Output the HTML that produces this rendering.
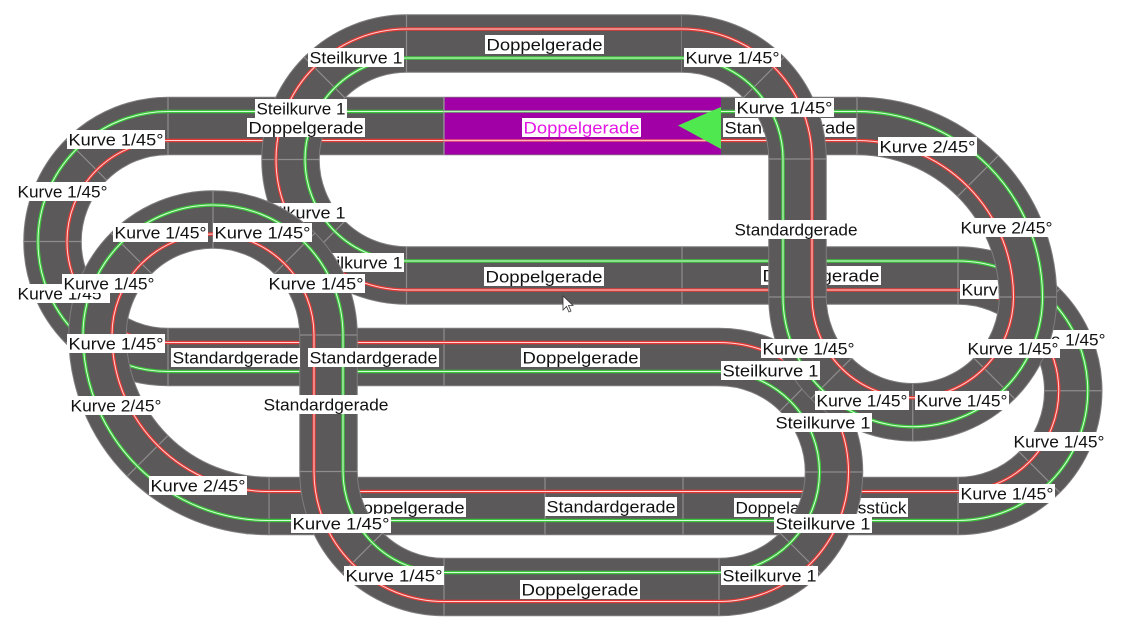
<!DOCTYPE html>
<html><head><meta charset="utf-8"><style>
html,body{margin:0;padding:0;background:#fff;}
svg{display:block;}
text{font-family:"Liberation Sans",Arial,sans-serif;font-size:16.5px;fill:#111;}
.tb{stroke:#7f7d7e;stroke-width:58.5;fill:none;}
.tf{stroke:#5b5959;stroke-width:56.5;fill:none;}
.jt{stroke:#8f8d8e;stroke-width:1.2;fill:none;}
.r1{stroke:#e03a36;stroke-width:3.4;fill:none;}
.r2{stroke:#ffd4d2;stroke-width:1;fill:none;}
.g1{stroke:#3cc43c;stroke-width:3.4;fill:none;}
.g2{stroke:#d6ffd6;stroke-width:1;fill:none;}
rect.lb{fill:#fff;}
</style></head><body>
<svg width="1140" height="631" viewBox="0 0 1140 631" xmlns="http://www.w3.org/2000/svg">
<rect width="1140" height="631" fill="#fff"/>

<!-- P0: y126 straight, big left semicircle, y357 straight -->
<g>
<path class="tb" d="M858,126 H168 A115.5,115.5 0 0 0 52.5,241.5 A115.5,115.5 0 0 0 168,357 H719.5"/>
<path class="tf" d="M858,126 H168 A115.5,115.5 0 0 0 52.5,241.5 A115.5,115.5 0 0 0 168,357 H719.5"/>
<path class="jt" d="M168,97.5V154.5 M444,97.5V154.5 M720,97.5V154.5 M168,328.5V385.5 M306,328.5V385.5 M444,328.5V385.5 M106.5,180L66.2,139.7 M24,241.5H81 M106.5,303L66.2,343.3"/>
<path class="r1" d="M858,140.5 H168 A101,101 0 0 0 67,241.5 A101,101 0 0 0 168,342.5 H719.5"/>
<path class="r2" d="M858,140.5 H168 A101,101 0 0 0 67,241.5 A101,101 0 0 0 168,342.5 H719.5"/>
<path class="g1" d="M858,111.5 H168 A130,130 0 0 0 38,241.5 A130,130 0 0 0 168,371.5 H719.5"/>
<path class="g2" d="M858,111.5 H168 A130,130 0 0 0 38,241.5 A130,130 0 0 0 168,371.5 H719.5"/>
</g>

<!-- magenta selected piece -->
<rect x="444" y="97.5" width="277" height="57" fill="#a100a6"/>
<line x1="444" y1="97.5" x2="444" y2="154.5" stroke="#9a9a9a" stroke-width="1.2"/>
<path d="M444,111.5H721" stroke="#62d862" stroke-width="2.2"/>
<path d="M444,111.5H721" stroke="#d8ffd8" stroke-width="0.8"/>
<path d="M444,140.5H721" stroke="#ff6a6a" stroke-width="2.2"/>
<path d="M444,140.5H721" stroke="#ffd0d0" stroke-width="0.8"/>
<polygon points="678,125.5 721,107 721,149" fill="#4fe84f"/>

<!-- P1 -->
<g>
<path class="tb" d="M268,506 H958 A115.25,115.25 0 0 0 1073.25,390.75 A115.25,115.25 0 0 0 958,275.5 H406.5 A116,116 0 0 1 290.5,159.5 A116,116 0 0 1 406.5,43.5 H682.5"/>
<path class="tf" d="M268,506 H958 A115.25,115.25 0 0 0 1073.25,390.75 A115.25,115.25 0 0 0 958,275.5 H406.5 A116,116 0 0 1 290.5,159.5 A116,116 0 0 1 406.5,43.5 H682.5"/>
<path class="jt" d="M247,477.5V534.5 M269,477.5V534.5 M545,477.5V534.5 M683,477.5V534.5 M958,477.5V534.5 M958,247V304 M682,247V304 M406.5,247V304 M406.5,15V72 M682,15V72 M1019.3,452.1L1059.6,492.4 M1044.75,390.75H1101.75 M1019.3,329.4L1059.6,289.1 M344.6,221.4L304.3,261.7 M262,159.5H319 M344.6,97.6L304.3,57.3"/>
<path class="r1" d="M268,491.5 H958 A100.75,100.75 0 0 0 1058.75,390.75 A100.75,100.75 0 0 0 958,290 H406.5 A130.5,130.5 0 0 1 276,159.5 A130.5,130.5 0 0 1 406.5,29 H682.5"/>
<path class="r2" d="M268,491.5 H958 A100.75,100.75 0 0 0 1058.75,390.75 A100.75,100.75 0 0 0 958,290 H406.5 A130.5,130.5 0 0 1 276,159.5 A130.5,130.5 0 0 1 406.5,29 H682.5"/>
<path class="g1" d="M268,520.5 H958 A129.75,129.75 0 0 0 1087.75,390.75 A129.75,129.75 0 0 0 958,261 H406.5 A101.5,101.5 0 0 1 305,159.5 A101.5,101.5 0 0 1 406.5,58 H682.5"/>
<path class="g2" d="M268,520.5 H958 A129.75,129.75 0 0 0 1087.75,390.75 A129.75,129.75 0 0 0 958,261 H406.5 A101.5,101.5 0 0 1 305,159.5 A101.5,101.5 0 0 1 406.5,58 H682.5"/>
</g>

<!-- labels partly hidden by later tracks -->
<g>
<rect class="lb" x="250" y="203" width="97" height="19"/><text x="251.5" y="218.5" textLength="94" lengthAdjust="spacingAndGlyphs">Steilkurve 1</text>
<rect class="lb" x="308" y="253" width="96" height="19"/><text x="309.5" y="268.5" textLength="93" lengthAdjust="spacingAndGlyphs">Steilkurve 1</text>
<rect class="lb" x="723" y="118" width="134" height="19"/><text x="724.5" y="133.5" textLength="131" lengthAdjust="spacingAndGlyphs">Standardgerade</text>
<rect class="lb" x="761" y="266" width="120" height="19"/><text x="762.5" y="281.5" textLength="117" lengthAdjust="spacingAndGlyphs">Doppelgerade</text>
<rect class="lb" x="960" y="280" width="95" height="19"/><text x="961.5" y="295.5" textLength="92" lengthAdjust="spacingAndGlyphs">Kurve 1/45°</text>
<rect class="lb" x="1014" y="330" width="93" height="19"/><text x="1015.5" y="345.5" textLength="90" lengthAdjust="spacingAndGlyphs">Kurve 1/45°</text>
<rect class="lb" x="348" y="498" width="118" height="19"/><text x="349.5" y="513.5" textLength="115" lengthAdjust="spacingAndGlyphs">Doppelgerade</text>
<rect class="lb" x="734" y="498" width="174" height="19"/><text x="735.5" y="513.5" textLength="171" lengthAdjust="spacingAndGlyphs">Doppelanschlussstück</text>
</g>

<!-- P2 -->
<g>
<path class="tb" d="M719,357 A115,115 0 0 1 834,472 A115,115 0 0 1 719,587 H444 A115.5,115.5 0 0 1 328.5,471.5 V335 A115.5,115.5 0 0 0 213,219.5 A115.5,115.5 0 0 0 97.5,335 A171,171 0 0 0 268.5,506"/>
<path class="tf" d="M719,357 A115,115 0 0 1 834,472 A115,115 0 0 1 719,587 H444 A115.5,115.5 0 0 1 328.5,471.5 V335 A115.5,115.5 0 0 0 213,219.5 A115.5,115.5 0 0 0 97.5,335 A171,171 0 0 0 268.5,506"/>
<path class="jt" d="M780.2,410.8L820.5,370.5 M805.5,472H862.5 M780.2,533.2L820.5,573.5 M719,558.5V615.5 M444,558.5V615.5 M382.5,533L342.2,573.3 M300,471.5H357 M300,335H357 M274.5,273.5L314.8,233.2 M213,191V248 M151.5,273.5L111.2,233.2 M69,335H126 M167.7,435.8L127.4,476.1"/>
<path class="r1" d="M719,342.5 A129.5,129.5 0 0 1 848.5,472 A129.5,129.5 0 0 1 719,601.5 H444 A130,130 0 0 1 314,471.5 V335 A101,101 0 0 0 213,234 A101,101 0 0 0 112,335 A156.5,156.5 0 0 0 268.5,491.5"/>
<path class="r2" d="M719,342.5 A129.5,129.5 0 0 1 848.5,472 A129.5,129.5 0 0 1 719,601.5 H444 A130,130 0 0 1 314,471.5 V335 A101,101 0 0 0 213,234 A101,101 0 0 0 112,335 A156.5,156.5 0 0 0 268.5,491.5"/>
<path class="g1" d="M719,371.5 A100.5,100.5 0 0 1 819.5,472 A100.5,100.5 0 0 1 719,572.5 H444 A101,101 0 0 1 343,471.5 V335 A130,130 0 0 0 213,205 A130,130 0 0 0 83,335 A185.5,185.5 0 0 0 268.5,520.5"/>
<path class="g2" d="M719,371.5 A100.5,100.5 0 0 1 819.5,472 A100.5,100.5 0 0 1 719,572.5 H444 A101,101 0 0 1 343,471.5 V335 A130,130 0 0 0 213,205 A130,130 0 0 0 83,335 A185.5,185.5 0 0 0 268.5,520.5"/>
</g>

<!-- P3 -->
<g>
<path class="tb" d="M682,43.5 A115.5,115.5 0 0 1 797.5,159 V297 A115.25,115.25 0 0 0 912.75,412.25 A115.25,115.25 0 0 0 1028,297 A171,171 0 0 0 857,126"/>
<path class="tf" d="M682,43.5 A115.5,115.5 0 0 1 797.5,159 V297 A115.25,115.25 0 0 0 912.75,412.25 A115.25,115.25 0 0 0 1028,297 A171,171 0 0 0 857,126"/>
<path class="jt" d="M743.5,97.5L783.8,57.2 M769,159H826 M769,297H826 M851.4,358.3L811.1,398.6 M912.75,383.75V440.75 M974.1,358.3L1014.4,398.6 M999.5,297H1056.5 M957.8,196.2L998.1,155.9 M857,97.5V154.5"/>
<path class="r1" d="M682,29 A130,130 0 0 1 812,159 V297 A100.75,100.75 0 0 0 912.75,397.75 A100.75,100.75 0 0 0 1013.5,297 A156.5,156.5 0 0 0 857,140.5"/>
<path class="r2" d="M682,29 A130,130 0 0 1 812,159 V297 A100.75,100.75 0 0 0 912.75,397.75 A100.75,100.75 0 0 0 1013.5,297 A156.5,156.5 0 0 0 857,140.5"/>
<path class="g1" d="M682,58 A101,101 0 0 1 783,159 V297 A129.75,129.75 0 0 0 912.75,426.75 A129.75,129.75 0 0 0 1042.5,297 A185.5,185.5 0 0 0 857,111.5"/>
<path class="g2" d="M682,58 A101,101 0 0 1 783,159 V297 A129.75,129.75 0 0 0 912.75,426.75 A129.75,129.75 0 0 0 1042.5,297 A185.5,185.5 0 0 0 857,111.5"/>
</g>

<!-- visible labels -->
<g>
<rect class="lb" x="485" y="35" width="119" height="19"/><text x="486.5" y="50.5" textLength="116" lengthAdjust="spacingAndGlyphs">Doppelgerade</text>
<rect class="lb" x="308" y="48" width="96" height="19"/><text x="309.5" y="63.5" textLength="93" lengthAdjust="spacingAndGlyphs">Steilkurve 1</text>
<rect class="lb" x="684" y="48" width="97" height="19"/><text x="685.5" y="63.5" textLength="94" lengthAdjust="spacingAndGlyphs">Kurve 1/45°</text>
<rect class="lb" x="255" y="99" width="92" height="19"/><text x="256.5" y="114.5" textLength="89" lengthAdjust="spacingAndGlyphs">Steilkurve 1</text>
<rect class="lb" x="247" y="118" width="118" height="19"/><text x="248.5" y="133.5" textLength="115" lengthAdjust="spacingAndGlyphs">Doppelgerade</text>
<rect class="lb" x="522" y="118" width="119" height="19"/><text x="523.5" y="133.5" textLength="116" lengthAdjust="spacingAndGlyphs" style="fill:#e416e4">Doppelgerade</text>
<rect class="lb" x="735" y="98" width="99" height="19"/><text x="736.5" y="113.5" textLength="96" lengthAdjust="spacingAndGlyphs">Kurve 1/45°</text>
<rect class="lb" x="67" y="130" width="98" height="19"/><text x="68.5" y="145.5" textLength="95" lengthAdjust="spacingAndGlyphs">Kurve 1/45°</text>
<rect class="lb" x="878" y="137" width="99" height="19"/><text x="879.5" y="152.5" textLength="96" lengthAdjust="spacingAndGlyphs">Kurve 2/45°</text>
<rect class="lb" x="16" y="182" width="93" height="19"/><text x="17.5" y="197.5" textLength="90" lengthAdjust="spacingAndGlyphs">Kurve 1/45°</text>
<rect class="lb" x="733" y="220" width="126" height="19"/><text x="734.5" y="235.5" textLength="123" lengthAdjust="spacingAndGlyphs">Standardgerade</text>
<rect class="lb" x="959" y="218" width="95" height="19"/><text x="960.5" y="233.5" textLength="92" lengthAdjust="spacingAndGlyphs">Kurve 2/45°</text>
<rect class="lb" x="113" y="223" width="95" height="19"/><text x="114.5" y="238.5" textLength="92" lengthAdjust="spacingAndGlyphs">Kurve 1/45°</text>
<rect class="lb" x="213" y="223" width="99" height="19"/><text x="214.5" y="238.5" textLength="96" lengthAdjust="spacingAndGlyphs">Kurve 1/45°</text>
<rect class="lb" x="484" y="267" width="120" height="19"/><text x="485.5" y="282.5" textLength="117" lengthAdjust="spacingAndGlyphs">Doppelgerade</text>
<rect class="lb" x="16" y="284" width="94" height="19"/><text x="17.5" y="299.5" textLength="91" lengthAdjust="spacingAndGlyphs">Kurve 1/45°</text>
<rect class="lb" x="62" y="274" width="94" height="19"/><text x="63.5" y="289.5" textLength="91" lengthAdjust="spacingAndGlyphs">Kurve 1/45°</text>
<rect class="lb" x="267" y="274" width="98" height="19"/><text x="268.5" y="289.5" textLength="95" lengthAdjust="spacingAndGlyphs">Kurve 1/45°</text>
<rect class="lb" x="67" y="334" width="98" height="19"/><text x="68.5" y="349.5" textLength="95" lengthAdjust="spacingAndGlyphs">Kurve 1/45°</text>
<rect class="lb" x="171" y="348" width="129" height="19"/><text x="172.5" y="363.5" textLength="126" lengthAdjust="spacingAndGlyphs">Standardgerade</text>
<rect class="lb" x="308" y="348" width="131" height="19"/><text x="309.5" y="363.5" textLength="128" lengthAdjust="spacingAndGlyphs">Standardgerade</text>
<rect class="lb" x="521" y="348" width="119" height="19"/><text x="522.5" y="363.5" textLength="116" lengthAdjust="spacingAndGlyphs">Doppelgerade</text>
<rect class="lb" x="761" y="339" width="95" height="19"/><text x="762.5" y="354.5" textLength="92" lengthAdjust="spacingAndGlyphs">Kurve 1/45°</text>
<rect class="lb" x="966" y="339" width="94" height="19"/><text x="967.5" y="354.5" textLength="91" lengthAdjust="spacingAndGlyphs">Kurve 1/45°</text>
<rect class="lb" x="721" y="361" width="99" height="19"/><text x="722.5" y="376.5" textLength="96" lengthAdjust="spacingAndGlyphs">Steilkurve 1</text>
<rect class="lb" x="815" y="391" width="94" height="19"/><text x="816.5" y="406.5" textLength="91" lengthAdjust="spacingAndGlyphs">Kurve 1/45°</text>
<rect class="lb" x="915" y="391" width="94" height="19"/><text x="916.5" y="406.5" textLength="91" lengthAdjust="spacingAndGlyphs">Kurve 1/45°</text>
<rect class="lb" x="69" y="396" width="94" height="19"/><text x="70.5" y="411.5" textLength="91" lengthAdjust="spacingAndGlyphs">Kurve 2/45°</text>
<rect class="lb" x="262" y="395" width="128" height="19"/><text x="263.5" y="410.5" textLength="125" lengthAdjust="spacingAndGlyphs">Standardgerade</text>
<rect class="lb" x="774" y="413" width="98" height="19"/><text x="775.5" y="428.5" textLength="95" lengthAdjust="spacingAndGlyphs">Steilkurve 1</text>
<rect class="lb" x="1012" y="432" width="94" height="19"/><text x="1013.5" y="447.5" textLength="91" lengthAdjust="spacingAndGlyphs">Kurve 1/45°</text>
<rect class="lb" x="149" y="476" width="98" height="19"/><text x="150.5" y="491.5" textLength="95" lengthAdjust="spacingAndGlyphs">Kurve 2/45°</text>
<rect class="lb" x="959" y="484" width="96" height="19"/><text x="960.5" y="499.5" textLength="93" lengthAdjust="spacingAndGlyphs">Kurve 1/45°</text>
<rect class="lb" x="545" y="497" width="132" height="19"/><text x="546.5" y="512.5" textLength="129" lengthAdjust="spacingAndGlyphs">Standardgerade</text>
<rect class="lb" x="291" y="514" width="100" height="19"/><text x="292.5" y="529.5" textLength="97" lengthAdjust="spacingAndGlyphs">Kurve 1/45°</text>
<rect class="lb" x="774" y="514" width="98" height="19"/><text x="775.5" y="529.5" textLength="95" lengthAdjust="spacingAndGlyphs">Steilkurve 1</text>
<rect class="lb" x="344" y="566" width="100" height="19"/><text x="345.5" y="581.5" textLength="97" lengthAdjust="spacingAndGlyphs">Kurve 1/45°</text>
<rect class="lb" x="721" y="566" width="97" height="19"/><text x="722.5" y="581.5" textLength="94" lengthAdjust="spacingAndGlyphs">Steilkurve 1</text>
<rect class="lb" x="520" y="580" width="120" height="19"/><text x="521.5" y="595.5" textLength="117" lengthAdjust="spacingAndGlyphs">Doppelgerade</text>
</g>

<!-- mouse cursor -->
<polygon points="563,296 563,310 566.5,306.5 569,312 571,311 568.5,305.5 573,305.5" fill="#fff" stroke="#333" stroke-width="0.8"/>
</svg>
</body></html>
